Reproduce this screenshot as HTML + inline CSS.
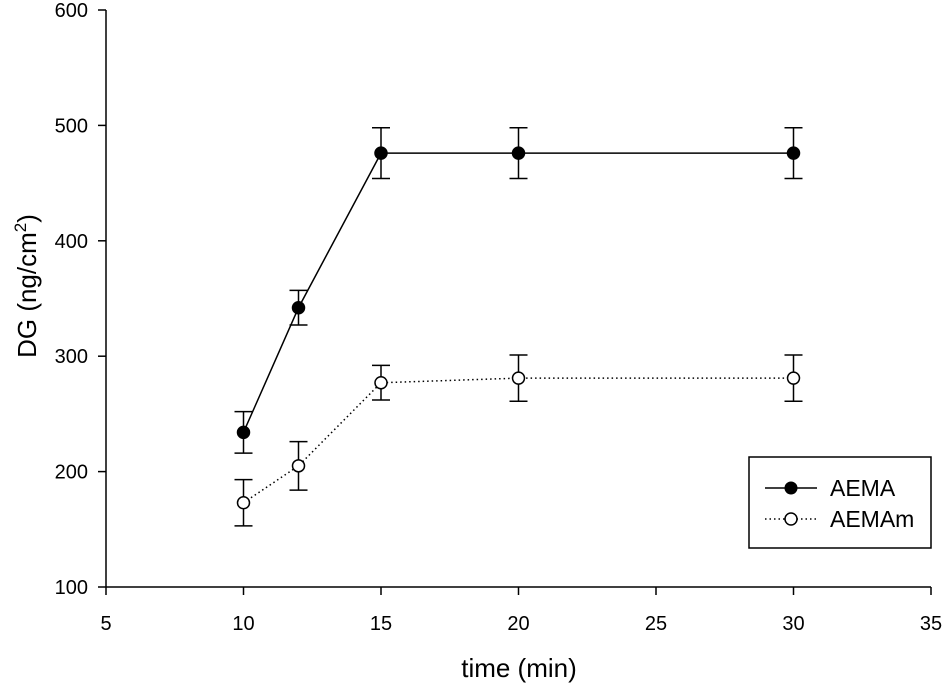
<!DOCTYPE html>
<html><head><meta charset="utf-8"><style>
body{margin:0;background:#fff}
svg text{font-family:"Liberation Sans",Arial,sans-serif;fill:#000}
</style></head><body>
<svg id="c" width="945" height="689"></svg>
<script>
const xTicks=[5,10,15,20,25,30,35];
const yTicks=[100,200,300,400,500,600];
const xs=[10,12,15,20,30];
const aema=[234,342,476,476,476];
const aemaErr=[18,15,22,22,22];
const aemam=[173,205,277,281,281];
const aemamErr=[20,21,15,20,20];
const svg=document.getElementById('c');
const NS='http://www.w3.org/2000/svg';
const X0=106,X1=931,Y0=587,Y1=10;
const sx=v=>X0+(v-5)/30*(X1-X0);
const sy=v=>Y0-(v-100)/500*(Y0-Y1);
function mk(t,a,p){const e=document.createElementNS(NS,t);for(const k in a)e.setAttribute(k,a[k]);(p||svg).appendChild(e);return e;}
let g=mk('g',{});


mk('line',{x1:X0,y1:Y0,x2:X1,y2:Y0,stroke:'#000','stroke-width':1.5},g);
xTicks.forEach(t=>{mk('line',{x1:sx(t),y1:Y0,x2:sx(t),y2:Y0+8,stroke:'#000','stroke-width':1.5},g);
const tx=mk('text',{x:sx(t),y:Y0+43,'text-anchor':'middle','font-size':20},g);tx.textContent=t;});
g=mk('g',{});


mk('line',{x1:X0,y1:Y0,x2:X0,y2:Y1,stroke:'#000','stroke-width':1.5},g);
yTicks.forEach(t=>{mk('line',{x1:X0-8,y1:sy(t),x2:X0,y2:sy(t),stroke:'#000','stroke-width':1.5},g);
const tx=mk('text',{x:X0-18,y:sy(t)+7,'text-anchor':'end','font-size':20},g);tx.textContent=t;});
let t=mk('text',{x:519,y:677,'text-anchor':'middle','font-size':26});


t.textContent='time (min)';
t=mk('text',{transform:'translate(36,286) rotate(-90)','text-anchor':'middle','font-size':26});


t.innerHTML='DG (ng/cm<tspan dy="-10" font-size="17">2</tspan><tspan dy="10">)</tspan>';
function series(vals,errs,fill,dash,name){
  const sg=mk('g',{});
  
  
  mk('polyline',{points:xs.map((x,i)=>sx(x)+','+sy(vals[i])).join(' '),fill:'none',stroke:'#000','stroke-width':1.5,'stroke-dasharray':dash},sg);
  xs.forEach((x,i)=>{const cx=sx(x),hi=sy(vals[i]+errs[i]),lo=sy(vals[i]-errs[i]);
    mk('path',{d:`M${cx},${hi}V${lo}M${cx-9},${hi}H${cx+9}M${cx-9},${lo}H${cx+9}`,stroke:'#000','stroke-width':1.5,fill:'none'},sg);
    const c=mk('circle',{cx:cx,cy:sy(vals[i]),r:6,fill:fill,stroke:'#000','stroke-width':1.5},sg);
    
    });
}
series(aemam,aemamErr,'#fff','1.5 3','series-aemam');
series(aema,aemaErr,'#000','none','series-aema');
g=mk('g',{});


mk('rect',{x:749,y:457,width:182,height:91,fill:'#fff',stroke:'#000','stroke-width':1.5},g);
mk('line',{x1:765,y1:488,x2:817,y2:488,stroke:'#000','stroke-width':1.5},g);
mk('circle',{cx:791,cy:488,r:6,fill:'#000',stroke:'#000'},g);
mk('line',{x1:765,y1:519,x2:817,y2:519,stroke:'#000','stroke-width':1.5,'stroke-dasharray':'1.5 3'},g);
mk('circle',{cx:791,cy:519,r:6,fill:'#fff',stroke:'#000','stroke-width':1.5},g);
t=mk('text',{x:830,y:496,'font-size':23},g);t.textContent='AEMA';


t=mk('text',{x:830,y:527,'font-size':23},g);t.textContent='AEMAm';


</script>
</body></html>
